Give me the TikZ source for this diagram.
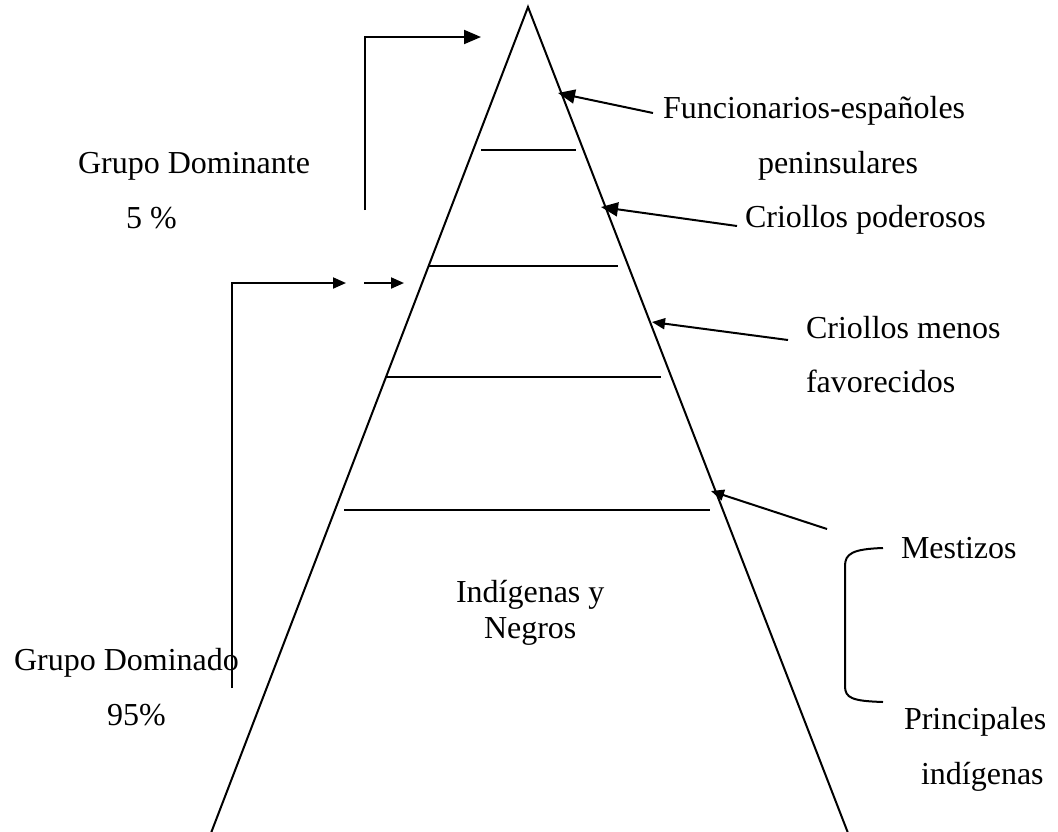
\documentclass[tikz,border=0pt]{standalone}
\usepackage{fontspec}
\setmainfont{Liberation Serif}
\usetikzlibrary{arrows.meta}
\begin{document}
\begin{tikzpicture}[x=1pt,y=-1pt,line width=2pt,
  lbl/.style={anchor=base west,inner sep=0pt,font=\fontsize{32}{38}\selectfont},
  arr/.style={-{Triangle[length=17pt,width=14pt]}},
  arrs/.style={-{Triangle[length=13pt,width=11pt]}}]
\useasboundingbox (0,0) rectangle (1058,831);
% pyramid
\coordinate (apex) at (528,7);
\coordinate (bl) at (211,833);
\coordinate (br) at (848,833);
\draw (bl) -- (apex) -- (br);
% layer lines
\draw (481,150) -- (576,150);
\draw (429,266) -- (618,266);
\draw (385,377) -- (661,377);
\draw (344,510) -- (710,510);
% labels
\node[lbl] (gdom) at (77,173) {Grupo Dominante};
\node[lbl] (p5) at (125,228) {5 \%};
\node[lbl] (func) at (662,118) {Funcionarios-españoles};
\node[lbl] (pen) at (757,173) {peninsulares};
\node[lbl] (crp) at (744,227) {Criollos poderosos};
\node[lbl] (crm) at (805,338) {Criollos menos};
\node[lbl] (fav) at (805,392) {favorecidos};
\node[lbl] (mes) at (900,558) {Mestizos};
\node[lbl] (ind) at (455,602) {Indígenas y};
\node[lbl] (neg) at (483,638) {Negros};
\node[lbl] (gdo) at (13,670) {Grupo Dominado};
\node[lbl] (p95) at (106,725) {95\%};
\node[lbl] (pri) at (903,729) {Principales};
\node[lbl] (indi) at (920,784) {indígenas};
% left connectors
\coordinate (a1) at (365,210);
\coordinate (a1t) at (481,37);
\draw[arr] (a1) |- (a1t);
\coordinate (a2) at (232,688);
\coordinate (a2t) at (346,283);
\draw[arrs] (a2) |- (a2t);
\coordinate (a3s) at (364,283);
\coordinate (a3t) at (404,283);
\draw[arrs] (a3s) -- (a3t);
% right arrows
\coordinate (f1) at (653,113);
\coordinate (f1t) at (558,93);
\draw[arr] (f1) -- (f1t);
\coordinate (f2) at (737,226);
\coordinate (f2t) at (601,207);
\draw[arr] (f2) -- (f2t);
\coordinate (f3) at (788,340);
\coordinate (f3t) at (652,322);
\draw[arrs] (f3) -- (f3t);
\coordinate (f4) at (827,529);
\coordinate (f4t) at (711,491);
\draw[arrs] (f4) -- (f4t);
% bracket
\draw (883,548) .. controls (852,549) and (845,554) .. (845,566) -- (845,686) .. controls (845,698) and (852,701) .. (883,702);
\end{tikzpicture}
\end{document}
